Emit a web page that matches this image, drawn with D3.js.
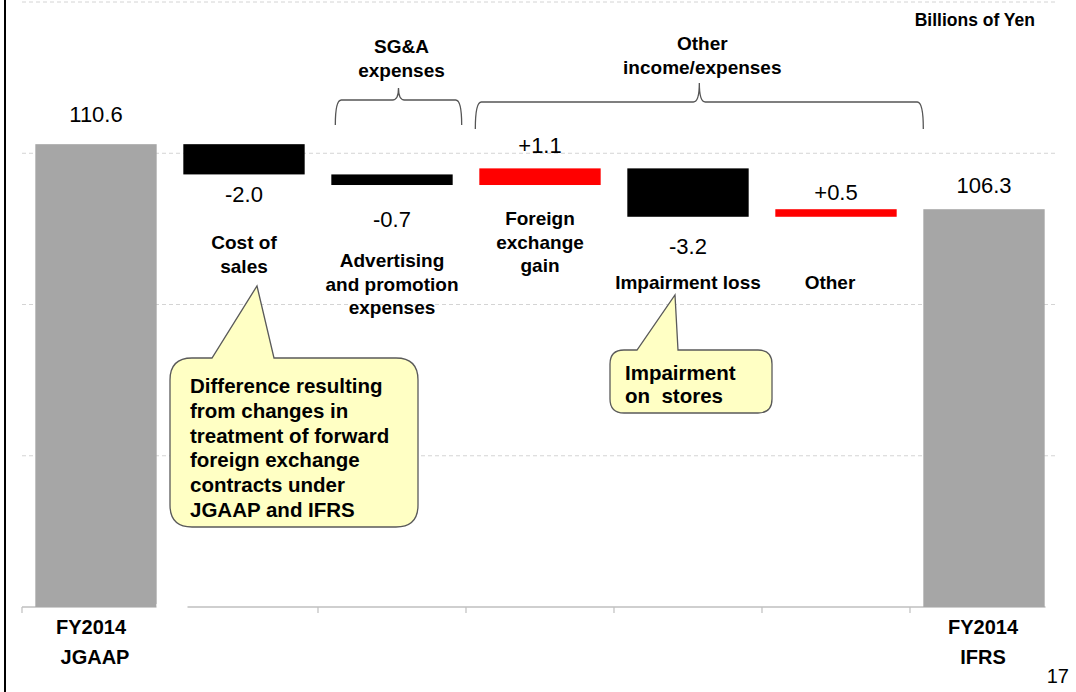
<!DOCTYPE html>
<html>
<head>
<meta charset="utf-8">
<script src="https://cdn.jsdelivr.net/npm/d3@7"></script>
<style>
  body { margin: 0; background: #fff; }
  svg { display: block; font-family: "Liberation Sans", Arial, sans-serif; }
  .lbl { font-weight: bold; font-size: 19px; fill: #000; }
  .val { font-size: 22px; fill: #000; }
</style>
</head>
<body>
<div id="chart"></div>
<script>
// waterfall values, billions of yen
var categories = ["JGAAP", "Cost of sales", "Advertising", "FX gain", "Impairment", "Other", "IFRS"];
var startValue = 110.6;
var deltas = [-2.0, -0.7, 1.1, -3.2, 0.5];
var endValue = 106.3;
var valueLabels = ["110.6", "-2.0", "-0.7", "+1.1", "-3.2", "+0.5", "106.3"];
var catLabels = [
  [],
  ["Cost of", "sales"],
  ["Advertising", "and promotion", "expenses"],
  ["Foreign", "exchange", "gain"],
  ["Impairment loss"],
  ["Other"],
  []
];
var yTicks = [80, 90, 100, 110, 120];

var W = 1076, H = 692;

var svg = d3.select("#chart").append("svg")
  .attr("width", W)
  .attr("height", H);

var x = d3.scaleBand()
  .domain(categories)
  .range([22, 1058])
  .paddingInner(0.18)
  .paddingOuter(0.09);

var y = d3.scaleLinear()
  .domain([80, 120])
  .range([607, 2]);

// build waterfall steps
var bars = [];
var run = startValue;
bars.push({cat: categories[0], lo: 80, hi: startValue, kind: "total"});
deltas.forEach(function(d, i) {
  var next = run + d;
  bars.push({cat: categories[i + 1], lo: Math.min(run, next), hi: Math.max(run, next), kind: d < 0 ? "neg" : "pos"});
  run = next;
});
bars.push({cat: categories[6], lo: 80, hi: endValue, kind: "total"});

var fills = {total: "#a6a6a6", neg: "#000000", pos: "#ff0000"};

// left border of the slide
svg.append("line")
  .attr("x1", 5).attr("x2", 5).attr("y1", 0).attr("y2", H)
  .attr("stroke", "#000").attr("stroke-width", 2);

// grid
svg.selectAll(".grid")
  .data(yTicks.slice(1))
  .enter().append("line")
  .attr("x1", 22).attr("x2", 1058)
  .attr("y1", function(d) { return y(d); })
  .attr("y2", function(d) { return y(d); })
  .attr("stroke", "#d4d4d4")
  .attr("stroke-dasharray", "4,3");

// x axis baseline with band boundary ticks
var xAxis = svg.append("g").attr("transform", "translate(0," + y(80) + ")");
xAxis.append("line")
  .attr("x1", 22).attr("x2", 1058)
  .attr("stroke", "#bfbfbf").attr("stroke-width", 1.5);
xAxis.selectAll(".tk")
  .data(d3.range(categories.length + 1))
  .enter().append("line")
  .attr("x1", function(i) { return 22 + i * x.step(); })
  .attr("x2", function(i) { return 22 + i * x.step(); })
  .attr("y1", 0).attr("y2", 6)
  .attr("stroke", "#bfbfbf").attr("stroke-width", 1.2);

// bars
svg.selectAll(".bar")
  .data(bars)
  .enter().append("rect")
  .attr("x", function(d) { return x(d.cat); })
  .attr("width", x.bandwidth())
  .attr("y", function(d) { return y(d.hi); })
  .attr("height", function(d) { return y(d.lo) - y(d.hi); })
  .attr("fill", function(d) { return fills[d.kind]; });

// white boxes behind the year labels (they hide the axis line in the original)
[[156, 31], [1045, 14]].forEach(function(b) {
  svg.append("rect").attr("x", b[0] + 0.5).attr("y", y(80) - 3).attr("width", b[1]).attr("height", 12).attr("fill", "#fff");
});

// value labels
var valY = [122, 202, 227, 153, 254, 200, 193];
svg.selectAll(".val")
  .data(bars)
  .enter().append("text")
  .attr("class", "val")
  .attr("text-anchor", "middle")
  .attr("x", function(d) { return x(d.cat) + x.bandwidth() / 2; })
  .attr("y", function(d, i) { return valY[i]; })
  .text(function(d, i) { return valueLabels[i]; });

// category labels
var catY = [0, 249, 267, 225, 289, 289, 0];
var catDx = [0, 0, 0, 0, 0, -6, 0];
categories.forEach(function(c, i) {
  catLabels[i].forEach(function(line, j) {
    svg.append("text")
      .attr("class", "lbl")
      .attr("text-anchor", "middle")
      .attr("x", x(c) + x.bandwidth() / 2 + catDx[i])
      .attr("y", catY[i] + j * 23.5)
      .text(line);
  });
});

// year labels under the axis
[[categories[0], ["FY2014", "JGAAP"], [-5, -1]], [categories[6], ["FY2014", "IFRS"], [-1, -1]]].forEach(function(g) {
  g[1].forEach(function(line, j) {
    svg.append("text")
      .attr("class", "lbl")
      .style("font-size", "20px")
      .attr("text-anchor", "middle")
      .attr("x", x(g[0]) + x.bandwidth() / 2 + g[2][j])
      .attr("y", 634 + j * 30)
      .text(line);
  });
});

// group braces
function brace(x0, x1, yTop, yEnd, peakX, peakY) {
  var r = 6;
  return "M" + x0 + "," + yEnd +
    " Q" + x0 + "," + yTop + " " + (x0 + r) + "," + yTop +
    " L" + (peakX - r) + "," + yTop +
    " Q" + peakX + "," + yTop + " " + peakX + "," + peakY +
    " Q" + peakX + "," + yTop + " " + (peakX + r) + "," + yTop +
    " L" + (x1 - r) + "," + yTop +
    " Q" + x1 + "," + yTop + " " + x1 + "," + yEnd;
}
var braces = [
  {x0: x(categories[2]) + 4, x1: x(categories[2]) + x.bandwidth() + 9, top: 100, end: 125, peak: 88, text: ["SG&A", "expenses"], ty: 53},
  {x0: x(categories[3]) - 4, x1: x(categories[6]), top: 102, end: 129, peak: 83, text: ["Other", "income/expenses"], ty: 50}
];
braces.forEach(function(b) {
  var mid = (b.x0 + b.x1) / 2;
  svg.append("path")
    .attr("d", brace(b.x0, b.x1, b.top, b.end, mid, b.peak))
    .attr("fill", "none")
    .attr("stroke", "#555")
    .attr("stroke-width", 1.3);
  b.text.forEach(function(line, j) {
    svg.append("text")
      .attr("class", "lbl")
      .attr("text-anchor", "middle")
      .attr("x", mid + 3)
      .attr("y", b.ty + j * 23.5)
      .text(line);
  });
});

// callouts
function callout(bx, by, bw, bh, r, p1, p2, tip) {
  var p = d3.path();
  p.moveTo(bx + r, by);
  p.lineTo(p1, by);
  p.lineTo(tip[0], tip[1]);
  p.lineTo(p2, by);
  p.lineTo(bx + bw - r, by);
  p.quadraticCurveTo(bx + bw, by, bx + bw, by + r);
  p.lineTo(bx + bw, by + bh - r);
  p.quadraticCurveTo(bx + bw, by + bh, bx + bw - r, by + bh);
  p.lineTo(bx + r, by + bh);
  p.quadraticCurveTo(bx, by + bh, bx, by + bh - r);
  p.lineTo(bx, by + r);
  p.quadraticCurveTo(bx, by, bx + r, by);
  p.closePath();
  return p.toString();
}
var notes = [
  {box: [170, 358, 248, 169, 22], p1: 212, p2: 274, tip: [257, 286], tx: 190, ty: 393, lh: 24.8,
   lines: ["Difference resulting", "from changes in", "treatment of forward", "foreign exchange", "contracts under", "JGAAP and IFRS"]},
  {box: [610, 350, 162, 63, 14], p1: 637, p2: 678, tip: [675, 295], tx: 625, ty: 380, lh: 23,
   lines: ["Impairment", "on\u00a0 stores"]}
];
notes.forEach(function(n) {
  svg.append("path")
    .attr("d", callout(n.box[0], n.box[1], n.box[2], n.box[3], n.box[4], n.p1, n.p2, n.tip))
    .attr("fill", "#ffffc4")
    .attr("stroke", "#5a5a5a")
    .attr("stroke-width", 1.3);
  n.lines.forEach(function(line, j) {
    svg.append("text")
      .attr("class", "lbl")
      .style("font-size", "20.5px")
      .attr("x", n.tx)
      .attr("y", n.ty + j * n.lh)
      .text(line);
  });
});

// unit + page number
svg.append("text")
  .attr("class", "lbl")
  .style("font-size", "17.5px")
  .attr("text-anchor", "end")
  .attr("x", 1035).attr("y", 26)
  .text("Billions of Yen");

svg.append("text")
  .style("font-size", "20px")
  .attr("text-anchor", "end")
  .attr("x", 1069).attr("y", 683)
  .text("17");
</script>
</body>
</html>
